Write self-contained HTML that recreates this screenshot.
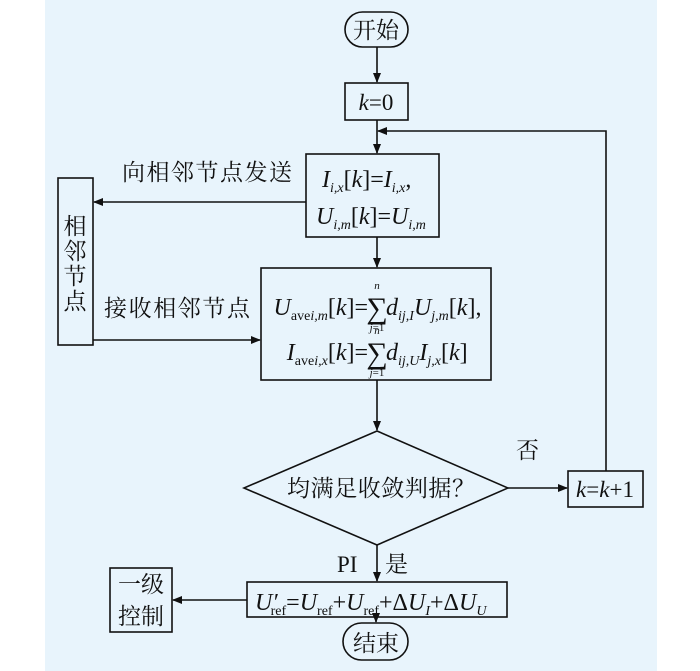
<!DOCTYPE html>
<html><head><meta charset="utf-8"><style>
html,body{margin:0;padding:0;background:#fff}
svg{display:block}
text{font-family:"Liberation Serif","Noto Serif CJK SC",serif;fill:#111}
.i{font-style:italic}
</style></head><body>
<svg width="700" height="671" viewBox="0 0 700 671" xmlns="http://www.w3.org/2000/svg">
<defs><marker id="a" markerWidth="10" markerHeight="8" refX="9" refY="4" orient="auto" markerUnits="userSpaceOnUse"><path d="M0,0 L10,4 L0,8 z" fill="#111"/></marker></defs>
<rect x="45" y="0" width="612" height="671" fill="#e8f4fc"/>
<g stroke="#111" stroke-width="1.6" fill="none">
<rect x="345" y="12" width="63" height="35" rx="17.5"/>
<rect x="345" y="83" width="63" height="37"/>
<rect x="306" y="154" width="133" height="83"/>
<rect x="58" y="178" width="35" height="167"/>
<rect x="261" y="268" width="230" height="112"/>
<polygon points="377,431 508,488 377,545 244,488"/>
<rect x="568" y="471" width="75" height="36"/>
<rect x="247" y="582" width="260" height="35"/>
<rect x="110" y="568" width="62" height="64"/>
<rect x="343" y="623" width="65" height="37" rx="18.5"/>
<line x1="377" y1="47" x2="377" y2="82" marker-end="url(#a)"/>
<line x1="377" y1="120" x2="377" y2="153" marker-end="url(#a)"/>
<polyline points="606,471 606,131 378,131" marker-end="url(#a)"/>
<line x1="377" y1="237" x2="377" y2="267" marker-end="url(#a)"/>
<line x1="306" y1="202" x2="94" y2="202" marker-end="url(#a)"/>
<line x1="93" y1="340" x2="260" y2="340" marker-end="url(#a)"/>
<line x1="377" y1="380" x2="377" y2="430" marker-end="url(#a)"/>
<line x1="508" y1="488" x2="567" y2="488" marker-end="url(#a)"/>
<line x1="377" y1="545" x2="377" y2="581" marker-end="url(#a)"/>
<line x1="247" y1="600" x2="173" y2="600" marker-end="url(#a)"/>
<line x1="376" y1="617" x2="376" y2="622" marker-end="url(#a)"/>
</g>
<g font-size="23">
<text x="376" y="38" text-anchor="middle">开始</text>
<text x="376" y="110" text-anchor="middle"><tspan class="i">k</tspan>=0</text>
<text x="122" y="180" textLength="170">向相邻节点发送</text>
<text x="104" y="316" textLength="146">接收相邻节点</text>
<text x="75" y="234" text-anchor="middle">相</text>
<text x="75" y="259" text-anchor="middle">邻</text>
<text x="75" y="284" text-anchor="middle">节</text>
<text x="75" y="309" text-anchor="middle">点</text>
<text x="287" y="496" textLength="188">均满足收敛判据？</text>
<text x="516" y="458">否</text>
<text x="605" y="497" text-anchor="middle"><tspan class="i">k</tspan>=<tspan class="i">k</tspan>+1</text>
<text x="337" y="572">PI</text>
<text x="385" y="572">是</text>
<text x="141" y="592" text-anchor="middle">一级</text>
<text x="141" y="624" text-anchor="middle">控制</text>
<text x="376" y="651" text-anchor="middle">结束</text>
</g>
<g font-size="24">
<text x="322" y="187"><tspan class="i">I</tspan><tspan class="i" font-size="14" dy="5">i,x</tspan><tspan dy="-5">[</tspan><tspan class="i">k</tspan>]=<tspan class="i">I</tspan><tspan class="i" font-size="14" dy="5">i,x</tspan><tspan dy="-5">,</tspan></text>
<text x="316" y="224"><tspan class="i">U</tspan><tspan class="i" font-size="14" dy="5">i,m</tspan><tspan dy="-5">[</tspan><tspan class="i">k</tspan>]=<tspan class="i">U</tspan><tspan class="i" font-size="14" dy="5">i,m</tspan></text>

<text x="368" y="315" text-anchor="end"><tspan class="i">U</tspan><tspan font-size="14" dy="5">ave</tspan><tspan class="i" font-size="14">i,m</tspan><tspan dy="-5">[</tspan><tspan class="i">k</tspan>]=</text>
<text x="377" y="318" text-anchor="middle" font-size="30">∑</text>
<text x="386" y="315"><tspan class="i">d</tspan><tspan class="i" font-size="14" dy="5">ij,I</tspan><tspan class="i" dy="-5">U</tspan><tspan class="i" font-size="14" dy="5">j,m</tspan><tspan dy="-5">[</tspan><tspan class="i">k</tspan>],</text>

<text x="368" y="360" text-anchor="end"><tspan class="i">I</tspan><tspan font-size="14" dy="5">ave</tspan><tspan class="i" font-size="14">i,x</tspan><tspan dy="-5">[</tspan><tspan class="i">k</tspan>]=</text>
<text x="377" y="363" text-anchor="middle" font-size="30">∑</text>
<text x="386" y="360"><tspan class="i">d</tspan><tspan class="i" font-size="14" dy="5">ij,U</tspan><tspan class="i" dy="-5">I</tspan><tspan class="i" font-size="14" dy="5">j,x</tspan><tspan dy="-5">[</tspan><tspan class="i">k</tspan>]</text>

<text x="255" y="610"><tspan class="i">U</tspan><tspan class="i">′</tspan><tspan font-size="14" dx="-7" dy="5">ref</tspan><tspan dy="-5">=</tspan><tspan class="i">U</tspan><tspan font-size="14" dy="5">ref</tspan><tspan dy="-5">+</tspan><tspan class="i">U</tspan><tspan font-size="14" dy="5">ref</tspan><tspan dy="-5">+Δ</tspan><tspan class="i">U</tspan><tspan class="i" font-size="14" dy="5">I</tspan><tspan dy="-5">+Δ</tspan><tspan class="i">U</tspan><tspan class="i" font-size="14" dy="5">U</tspan></text>
</g>
<g font-size="11">
<text x="377" y="289" text-anchor="middle" class="i">n</text>
<text x="377" y="331" text-anchor="middle"><tspan class="i">j</tspan>=1</text>
<text x="377" y="334" text-anchor="middle" class="i">n</text>
<text x="377" y="376" text-anchor="middle"><tspan class="i">j</tspan>=1</text>
</g>
</svg>
</body></html>
